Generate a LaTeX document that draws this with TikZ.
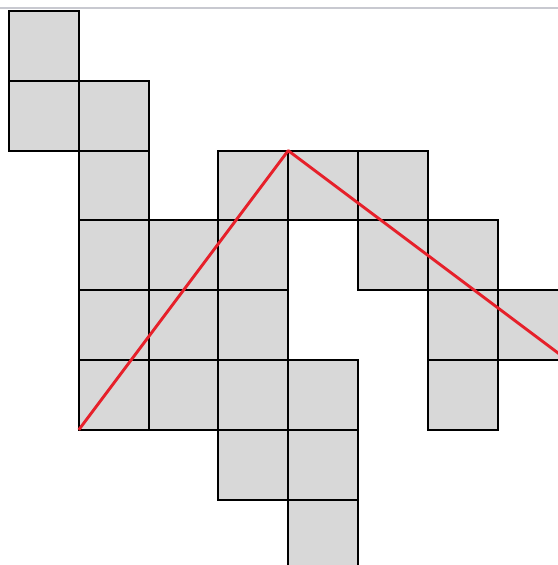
\documentclass[tikz,border=0pt]{standalone}
\usepackage{xcolor}
\usepackage{tikz}
\definecolor{cellgray}{HTML}{D8D8D8}
\definecolor{pathred}{HTML}{E6202A}
\definecolor{rulegray}{HTML}{C8C9D0}
\tikzset{
  cell/.style={draw=black, fill=cellgray, line width=0.8pt},
  redpath/.style={draw=pathred, line width=1.2pt, line join=round},
  topline/.style={draw=rulegray, line width=0.5pt}
}
\begin{document}
\begin{tikzpicture}
    \useasboundingbox (-0.129,-7.937) rectangle (7.865,0.158);
    \clip (-0.129,-7.937) rectangle (7.865,0.158);
    % top rule
    \draw[topline] (-0.129,0.043) -- (7.865,0.043);
    % cells (column, row), rows counted downwards
    \foreach \c/\r in {0/0, 0/1, 1/1, 1/2, 3/2, 4/2, 5/2,
                       1/3, 2/3, 3/3, 5/3, 6/3,
                       1/4, 2/4, 3/4, 6/4, 7/4,
                       1/5, 2/5, 3/5, 4/5, 6/5,
                       3/6, 4/6, 4/7}
      \draw[cell] (\c,-\r) rectangle ++(1,-1);
    % path points
    \coordinate (start) at (1,-6);
    \coordinate (apex) at (4,-2);
    \coordinate (finish) at (8,-5);
    \draw[redpath] (start) -- (apex) -- (finish);
\end{tikzpicture}
\end{document}
